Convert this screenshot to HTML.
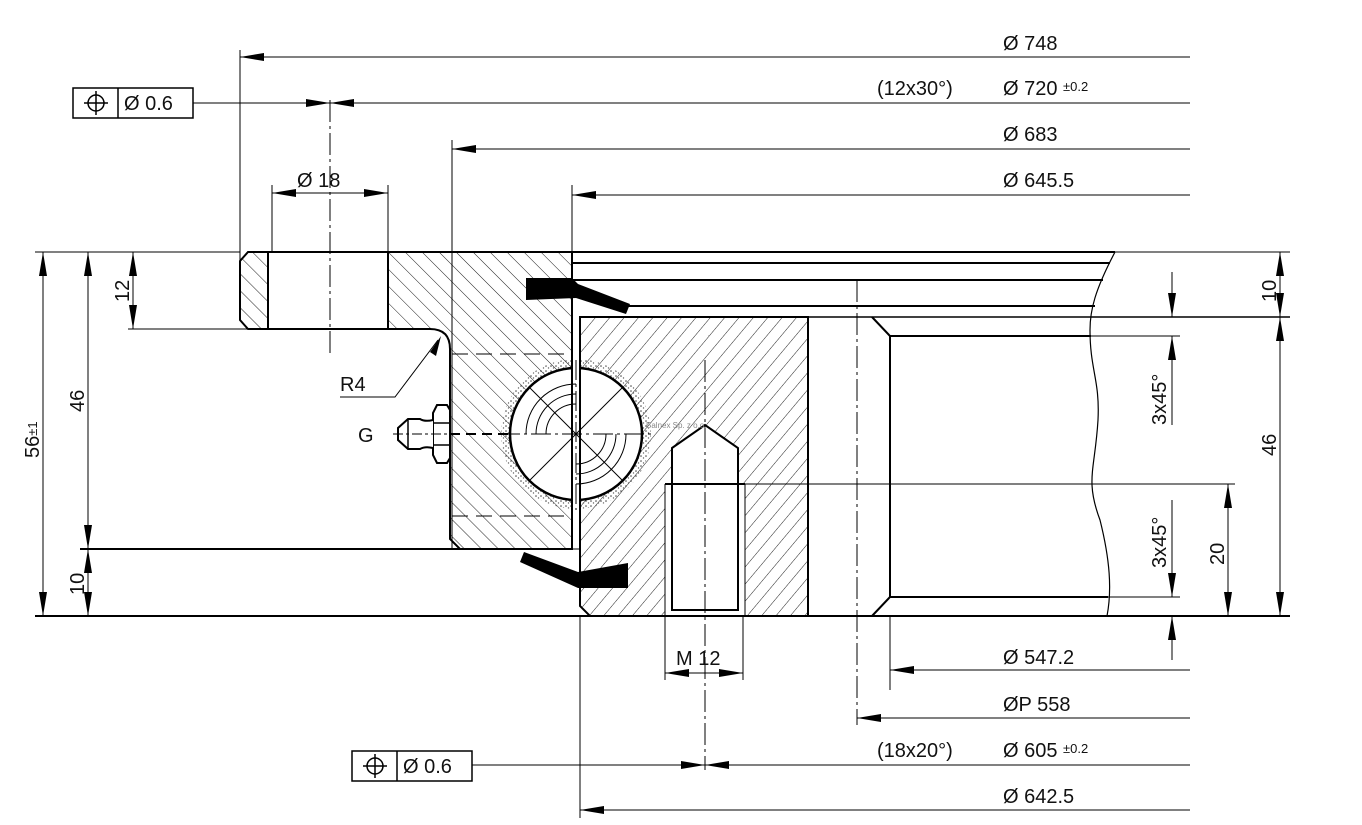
<!DOCTYPE html>
<html><head><meta charset="utf-8"><style>
html,body{margin:0;padding:0;background:#fff;}
svg{display:block;font-family:"Liberation Sans",sans-serif;}
text{font-size:20px;fill:#111;}
</style></head><body>
<svg width="1362" height="825" viewBox="0 0 1362 825" xmlns="http://www.w3.org/2000/svg">
<defs>
<marker id="a" markerWidth="24" markerHeight="8" refX="24" refY="4" orient="auto-start-reverse" markerUnits="userSpaceOnUse"><path d="M0,0 L24,4 L0,8 Z" fill="#000"/></marker>
<pattern id="hb" width="12" height="12" patternUnits="userSpaceOnUse" patternTransform="rotate(-45)"><line x1="0" y1="0" x2="0" y2="12" stroke="#222" stroke-width="1"/></pattern>
<pattern id="hf" width="11" height="11" patternUnits="userSpaceOnUse" patternTransform="rotate(40)"><line x1="0" y1="0" x2="0" y2="11" stroke="#222" stroke-width="1"/></pattern>
<pattern id="dots" width="5" height="5" patternUnits="userSpaceOnUse"><circle cx="1" cy="1" r="0.8" fill="#444"/><circle cx="3.5" cy="3" r="0.7" fill="#666"/></pattern>
</defs>

<g stroke="#000" fill="none">
<path d="M248,252 L268,252 L268,329 L248,329 L240,320 L240,261 Z" fill="url(#hb)" stroke-width="2"/>
<path d="M388,252 L572,252 L572,549 L460,549 L450,539 L450,349 Q450,329 430,329 L388,329 Z" fill="url(#hb)" stroke-width="2"/>
<line x1="268" y1="252" x2="388" y2="252" stroke-width="2"/>
<line x1="268" y1="329" x2="388" y2="329" stroke-width="2"/>
<path d="M580,317 L808,317 L808,616 L590,616 L580,606 Z" fill="url(#hf)" stroke-width="2"/>
<circle cx="576" cy="434" r="75" fill="url(#dots)" stroke="none"/>
<circle cx="576" cy="434" r="66" fill="#fff" stroke-width="2.5"/>
<rect x="665" y="484" width="80" height="132" fill="#fff" stroke="none"/>
<path d="M672,448 L705,425 L738,448 L738,610 L672,610 Z" fill="#fff" stroke-width="2"/>
<line x1="665" y1="484" x2="745" y2="484" stroke-width="2"/>
<line x1="665" y1="484" x2="665" y2="616" stroke-width="1"/>
<line x1="745" y1="484" x2="745" y2="616" stroke-width="1"/>
<rect x="573" y="252" width="6" height="300" fill="#fff" stroke="none"/>
<line x1="572" y1="252" x2="572" y2="549" stroke-width="2"/>
<line x1="580" y1="317" x2="580" y2="606" stroke-width="2"/>
<line x1="572" y1="549" x2="580" y2="549" stroke-width="1"/>
<line x1="388" y1="252" x2="1115" y2="252" stroke-width="2"/>
<line x1="572" y1="263" x2="1110" y2="263" stroke-width="2"/>
<line x1="572" y1="280" x2="1103" y2="280" stroke-width="2"/>
<line x1="625" y1="306" x2="1095" y2="306" stroke-width="2"/>
<line x1="580" y1="317" x2="1290" y2="317" stroke-width="1.5"/>
<line x1="808" y1="317" x2="808" y2="616" stroke-width="2"/>
<path d="M872,317 L890,336 L890,597 L872,616" stroke-width="2"/>
<line x1="890" y1="336" x2="1091" y2="336" stroke-width="2"/>
<line x1="890" y1="597" x2="1108" y2="597" stroke-width="2"/>
<line x1="890" y1="616" x2="890" y2="690" stroke-width="1"/>
<line x1="35" y1="616" x2="1290" y2="616" stroke-width="2"/>
<line x1="80" y1="549" x2="460" y2="549" stroke-width="2"/>
<line x1="128" y1="329" x2="248" y2="329" stroke-width="1"/>
<line x1="35" y1="252" x2="240" y2="252" stroke-width="1"/>
<line x1="1115" y1="252" x2="1290" y2="252" stroke-width="1"/>
<line x1="745" y1="484" x2="1235" y2="484" stroke-width="1"/>
<path d="M1115,252 C1095,290 1090,310 1090,330 C1090,370 1100,380 1098,420 C1095,470 1085,480 1100,520 C1110,560 1112,590 1107,616" stroke-width="1.2"/>
<path d="M526,278 L572,278 L578,284 L630,304 L626,314 L576,298 L526,300 Z" fill="#000" stroke="none"/>
<path d="M628,563 L628,588 L578,588 L520,562 L524,552 L578,572 Z" fill="#000" stroke="none"/>
<line x1="452" y1="354" x2="570" y2="354" stroke-width="1" stroke-dasharray="16,8"/>
<line x1="452" y1="516" x2="570" y2="516" stroke-width="1" stroke-dasharray="16,8"/>
<g stroke-width="1">
<line x1="576" y1="360" x2="576" y2="510" stroke-dasharray="20,4,3,4"/>
<line x1="500" y1="434" x2="652" y2="434" stroke-dasharray="20,4,3,4"/>
<line x1="530" y1="388" x2="622" y2="480"/>
<line x1="622" y1="388" x2="530" y2="480"/>
<path d="M526,434 A50,50 0 0 1 576,384"/>
<path d="M546,434 A30,30 0 0 1 576,404"/>
<path d="M626,434 A50,50 0 0 1 576,484"/>
<path d="M606,434 A30,30 0 0 1 576,464"/>
<path d="M536,434 A40,40 0 0 1 576,394"/>
<path d="M616,434 A40,40 0 0 1 576,474"/>
</g>
<path d="M437,405 L447,405 L450,410 L450,458 L447,463 L437,463 L433,455 L433,413 Z" fill="#fff" stroke-width="2"/>
<line x1="433" y1="423" x2="450" y2="423" stroke-width="1.5"/>
<line x1="433" y1="445" x2="450" y2="445" stroke-width="1.5"/>
<path d="M433,420 Q425,422 420,419 L408,419 L398,428 L398,440 L408,449 L420,449 Q425,446 433,448" fill="#fff" stroke-width="2"/>
<line x1="408" y1="419" x2="408" y2="449" stroke-width="1.5"/>
<line x1="393" y1="434" x2="450" y2="434" stroke-width="1" stroke-dasharray="10,3,3,3"/>
<line x1="450" y1="434" x2="510" y2="434" stroke-width="2" stroke-dasharray="10,6"/>
<polyline points="340,397 395,397 438,340" stroke-width="1"/>
<path d="M441,336 L430,352 L436,356 Z" fill="#000" stroke="none"/>
<g stroke-width="1" stroke-dasharray="22,4,3,4">
<line x1="330" y1="100" x2="330" y2="355"/>
<line x1="705" y1="360" x2="705" y2="770"/>
<line x1="857" y1="280" x2="857" y2="725"/>
</g>
<g stroke-width="1">
<line x1="240" y1="50" x2="240" y2="260"/>
<line x1="272" y1="185" x2="272" y2="252"/>
<line x1="388" y1="185" x2="388" y2="252"/>
<line x1="452" y1="140" x2="452" y2="549"/>
<line x1="572" y1="185" x2="572" y2="252"/>
<line x1="580" y1="616" x2="580" y2="818"/>
<line x1="665" y1="616" x2="665" y2="680"/>
<line x1="743" y1="616" x2="743" y2="680"/>
</g>
<g stroke-width="1">
<line x1="240" y1="57" x2="1190" y2="57" marker-start="url(#a)"/>
<line x1="193" y1="103" x2="330" y2="103" marker-end="url(#a)"/>
<line x1="330" y1="103" x2="1190" y2="103" marker-start="url(#a)"/>
<line x1="452" y1="149" x2="1190" y2="149" marker-start="url(#a)"/>
<line x1="572" y1="195" x2="1190" y2="195" marker-start="url(#a)"/>
<line x1="272" y1="193" x2="388" y2="193" marker-start="url(#a)" marker-end="url(#a)"/>
<line x1="890" y1="670" x2="1190" y2="670" marker-start="url(#a)"/>
<line x1="857" y1="718" x2="1190" y2="718" marker-start="url(#a)"/>
<line x1="472" y1="765" x2="705" y2="765" marker-end="url(#a)"/>
<line x1="705" y1="765" x2="1190" y2="765" marker-start="url(#a)"/>
<line x1="580" y1="810" x2="1190" y2="810" marker-start="url(#a)"/>
<line x1="665" y1="673" x2="743" y2="673" marker-start="url(#a)" marker-end="url(#a)"/>
</g>
<g stroke-width="1">
<line x1="43" y1="252" x2="43" y2="616" marker-start="url(#a)" marker-end="url(#a)"/>
<line x1="88" y1="252" x2="88" y2="549" marker-start="url(#a)" marker-end="url(#a)"/>
<line x1="88" y1="549" x2="88" y2="616" marker-start="url(#a)" marker-end="url(#a)"/>
<line x1="133" y1="252" x2="133" y2="329" marker-start="url(#a)" marker-end="url(#a)"/>
<line x1="1280" y1="252" x2="1280" y2="317" marker-start="url(#a)" marker-end="url(#a)"/>
<line x1="1280" y1="317" x2="1280" y2="616" marker-start="url(#a)" marker-end="url(#a)"/>
<line x1="1228" y1="484" x2="1228" y2="616" marker-start="url(#a)" marker-end="url(#a)"/>
<line x1="1172" y1="272" x2="1172" y2="317" marker-end="url(#a)"/>
<line x1="1172" y1="425" x2="1172" y2="336" marker-end="url(#a)"/>
<line x1="1172" y1="500" x2="1172" y2="597" marker-end="url(#a)"/>
<line x1="1172" y1="660" x2="1172" y2="616" marker-end="url(#a)"/>
<line x1="1091" y1="336" x2="1180" y2="336"/>
<line x1="1108" y1="597" x2="1180" y2="597"/>
</g>
<rect x="73" y="88" width="120" height="30" stroke-width="1.5" fill="#fff"/>
<line x1="118" y1="88" x2="118" y2="118" stroke-width="1.5"/>
<circle cx="96" cy="103" r="8" stroke-width="1.5"/>
<line x1="84" y1="103" x2="108" y2="103" stroke-width="1.5"/>
<line x1="96" y1="91" x2="96" y2="115" stroke-width="1.5"/>
<rect x="352" y="751" width="120" height="30" stroke-width="1.5" fill="#fff"/>
<line x1="397" y1="751" x2="397" y2="781" stroke-width="1.5"/>
<circle cx="375" cy="766" r="8" stroke-width="1.5"/>
<line x1="363" y1="766" x2="387" y2="766" stroke-width="1.5"/>
<line x1="375" y1="754" x2="375" y2="778" stroke-width="1.5"/>
</g>

<text x="1003" y="50">Ø 748</text>
<text x="877" y="95">(12x30°)</text>
<text x="1003" y="95">Ø 720 <tspan style="font-size:13px" dy="-4">±0.2</tspan></text>
<text x="1003" y="141">Ø 683</text>
<text x="1003" y="187">Ø 645.5</text>
<text x="297" y="187">Ø 18</text>
<text x="124" y="110">Ø 0.6</text>
<text x="403" y="773">Ø 0.6</text>
<text x="340" y="391">R4</text>
<text x="358" y="442">G</text>
<text x="676" y="665">M 12</text>
<text x="1003" y="664">Ø 547.2</text>
<text x="1003" y="711">ØP 558</text>
<text x="877" y="757">(18x20°)</text>
<text x="1003" y="757">Ø 605 <tspan style="font-size:13px" dy="-4">±0.2</tspan></text>
<text x="1003" y="803">Ø 642.5</text>
<text x="646" y="428" style="font-size:8px;fill:#888">Balnex Sp. z o.o.</text>
<text transform="translate(39,458) rotate(-90)">56<tspan style="font-size:13px" dy="-2">±1</tspan></text>
<text transform="translate(84,412) rotate(-90)">46</text>
<text transform="translate(129,302) rotate(-90)">12</text>
<text transform="translate(84,595) rotate(-90)">10</text>
<text transform="translate(1276,302) rotate(-90)">10</text>
<text transform="translate(1276,456) rotate(-90)">46</text>
<text transform="translate(1224,565) rotate(-90)">20</text>
<text transform="translate(1166,425) rotate(-90)">3x45°</text>
<text transform="translate(1166,568) rotate(-90)">3x45°</text>
</svg>
</body></html>
